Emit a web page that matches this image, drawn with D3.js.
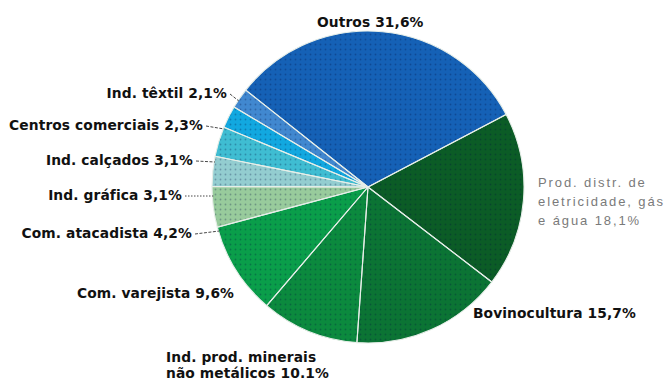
<!DOCTYPE html>
<html>
<head>
<meta charset="utf-8">
<script src="https://cdn.jsdelivr.net/npm/d3@7"></script>
<style>
  html, body { margin: 0; padding: 0; background: #fff; }
  svg { display: block; }
  .lbl { font-family: "DejaVu Sans", Arial, sans-serif; font-weight: bold; font-size: 13.8px; fill: #111; letter-spacing: 0.1px; }
  .lbl-light { font-family: "Liberation Sans", Arial, sans-serif; font-weight: normal; font-size: 13px; fill: #7a7a7a; letter-spacing: 1.9px; }
</style>
</head>
<body>
<script>
// Shares of each activity (%), clockwise from "Outros"
const categories = [
  "Outros",
  "Prod. distr. de eletricidade, gás e água",
  "Bovinocultura",
  "Ind. prod. minerais não metálicos",
  "Com. varejista",
  "Com. atacadista",
  "Ind. gráfica",
  "Ind. calçados",
  "Centros comerciais",
  "Ind. têxtil"
];
const shares = [31.6, 18.1, 15.7, 10.1, 9.6, 4.2, 3.1, 3.1, 2.3, 2.1];
const labelLines = [
  ["Outros 31,6%"],
  ["Prod. distr. de", "eletricidade, gás", "e água 18,1%"],
  ["Bovinocultura 15,7%"],
  ["Ind. prod. minerais", "não metálicos 10.1%"],
  ["Com. varejista 9,6%"],
  ["Com. atacadista 4,2%"],
  ["Ind. gráfica 3,1%"],
  ["Ind. calçados 3,1%"],
  ["Centros comerciais 2,3%"],
  ["Ind. têxtil 2,1%"]
];
const colors = [
  "#1561b6", "#0b5c26", "#0b7434", "#0b8a3e", "#0a9e4a",
  "#98cb9c", "#93cdd0", "#3fbdd2", "#12a8e0", "#4188d0"
];

// Label placement: anchor point, text anchor, style, and whether a leader line is drawn
const labelLayout = [
  { x: 317, y: 27,  anchor: "start", light: false, leader: false },
  { x: 538, y: 187, anchor: "start", light: true,  leader: false },
  { x: 473, y: 318, anchor: "start", light: false, leader: false },
  { x: 166, y: 362, anchor: "start", light: false, leader: false },
  { x: 77,  y: 298, anchor: "start", light: false, leader: false },
  { x: 192, y: 238, anchor: "end",   light: false, leader: true, ly: 231 },
  { x: 182, y: 200, anchor: "end",   light: false, leader: true, ly: 196, dotted: true },
  { x: 193, y: 165, anchor: "end",   light: false, leader: true, ly: 162 },
  { x: 203, y: 130, anchor: "end",   light: false, leader: true, ly: 129 },
  { x: 227, y: 98,  anchor: "end",   light: false, leader: true, ly: 101 }
];

const W = 669, H = 387;
const cx = 368, cy = 187, R = 156;
const startDeg = -51.6;

const svg = d3.select("body").append("svg").attr("width", W).attr("height", H);

const defs = svg.append("defs");
const pat = defs.append("pattern")
  .attr("id", "dots").attr("patternUnits", "userSpaceOnUse")
  .attr("width", 5).attr("height", 5);
pat.append("circle").attr("cx", 2.5).attr("cy", 2.5).attr("r", 0.9)
  .attr("fill", "rgba(0,10,60,0.28)");

const pie = d3.pie().sort(null).value(d => d)
  .startAngle(startDeg * Math.PI / 180)
  .endAngle((startDeg + 360) * Math.PI / 180);
const arcs = pie(shares);
const arc = d3.arc().innerRadius(0).outerRadius(R);

const g = svg.append("g").attr("transform", `translate(${cx},${cy})`);

g.selectAll("path.slice")
  .data(arcs)
  .join("path")
  .attr("class", "slice")
  .attr("d", arc)
  .attr("fill", (d, i) => colors[i]);

// halftone texture over the slices
g.selectAll("path.tex")
  .data(arcs)
  .join("path")
  .attr("class", "tex")
  .attr("d", arc)
  .attr("fill", "url(#dots)");

// light separators between slices
g.selectAll("path.sep")
  .data(arcs)
  .join("path")
  .attr("class", "sep")
  .attr("d", arc)
  .attr("fill", "none")
  .attr("stroke", "#e6eee8")
  .attr("stroke-width", 1.1)
  .attr("stroke-linejoin", "round");

// labels
labelLayout.forEach((L, i) => {
  const t = svg.append("text")
    .attr("class", L.light ? "lbl-light" : "lbl")
    .attr("text-anchor", L.anchor)
    .attr("x", L.x).attr("y", L.y);
  const step = L.light ? 19 : 16;
  labelLines[i].forEach((line, k) => {
    t.append("tspan").attr("x", L.x).attr("y", L.y + k * step).text(line);
  });
  if (L.leader) {
    const ex = cx - Math.sqrt(R * R - (L.ly - cy) * (L.ly - cy));
    svg.append("line")
      .attr("x1", L.x + 3).attr("y1", L.y - 4)
      .attr("x2", ex + 1).attr("y2", L.ly)
      .attr("stroke", "#333")
      .attr("stroke-width", 0.9)
      .attr("stroke-dasharray", L.dotted ? "1.5,1.5" : "3,1.5");
  }
});
</script>
</body>
</html>
